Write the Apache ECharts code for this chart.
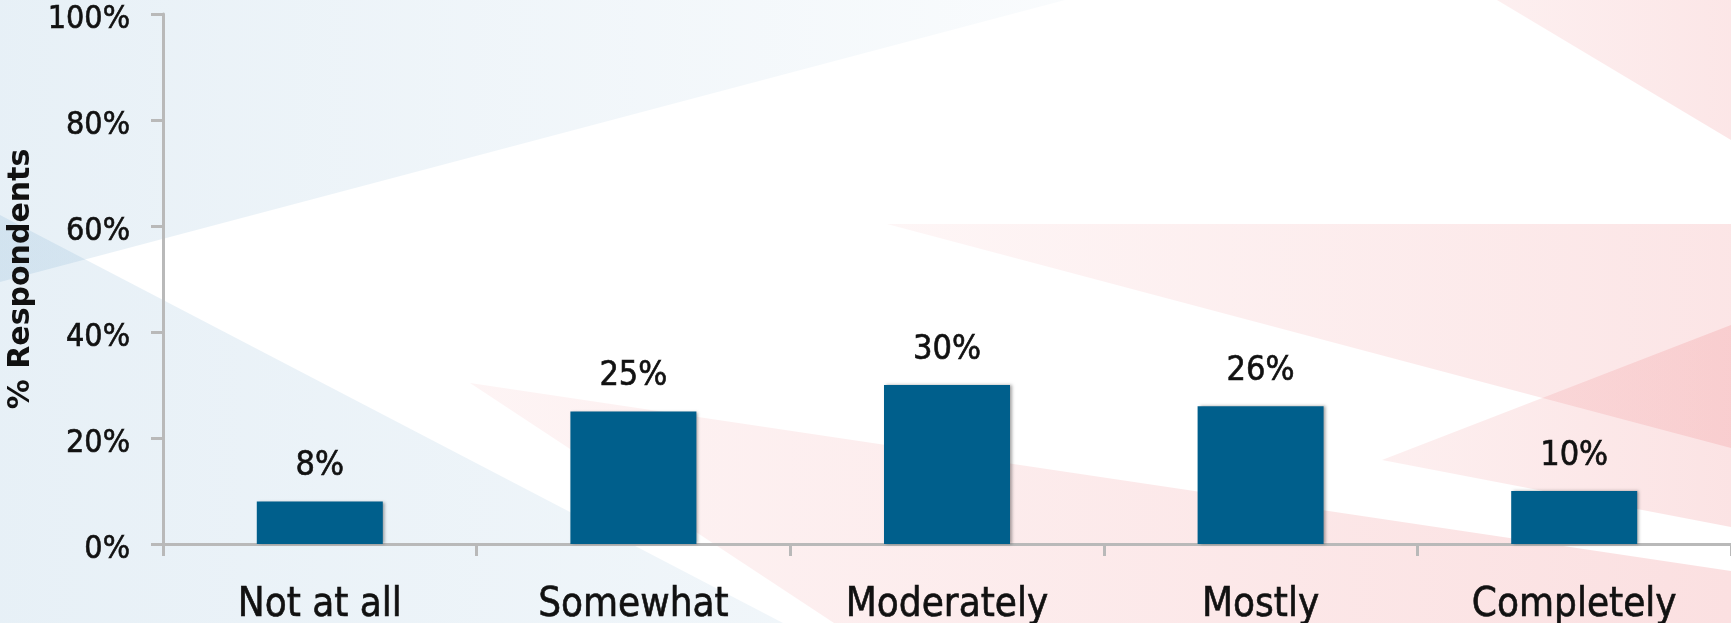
<!DOCTYPE html>
<html>
<head>
<meta charset="utf-8">
<title>% Respondents</title>
<script src="https://cdn.jsdelivr.net/npm/echarts@6/dist/echarts.min.js"></script>
<style>
  html, body { margin: 0; padding: 0; background: #ffffff; }
  #chart { width: 1731px; height: 623px; }
</style>
</head>
<body>
<div id="chart"></div>
<script>
// Survey answers and share of respondents (%)
const categories = ['Not at all', 'Somewhat', 'Moderately', 'Mostly', 'Completely'];
const respondentShare = [8, 25, 30, 26, 10];
const yTicks = [0, 20, 40, 60, 80, 100];

// Decorative slide backdrop: soft blue and pink wedges
function grad(c0, c1, x2, y2) {
  return { type: 'linear', x: 0, y: 0, x2: x2, y2: y2, colorStops: [
    { offset: 0, color: c0 }, { offset: 1, color: c1 }
  ] };
}
const backdrop = [
  { points: [[0, 0], [1065, 0], [0, 282]], fill: grad('rgba(70,140,190,0.13)', 'rgba(70,140,190,0.03)', 1, 0) },
  { points: [[0, 215], [783, 623], [0, 623]], fill: grad('rgba(70,140,190,0.13)', 'rgba(70,140,190,0.08)', 1, 0) },
  { points: [[1497, 0], [1731, 0], [1731, 140]], fill: grad('rgba(235,100,105,0.10)', 'rgba(235,100,105,0.16)', 1, 0) },
  { points: [[887, 224], [1731, 224], [1731, 448]], fill: grad('rgba(235,100,105,0.06)', 'rgba(235,100,105,0.17)', 1, 0) },
  { points: [[1382, 460], [1731, 325], [1731, 527]], fill: grad('rgba(235,100,105,0.10)', 'rgba(235,100,105,0.18)', 1, 0) },
  { points: [[470, 383], [1731, 571], [1731, 623], [834, 623]], fill: grad('rgba(235,100,105,0.07)', 'rgba(235,100,105,0.20)', 1, 0) }
];

const chart = echarts.init(document.getElementById('chart'), null, { renderer: 'canvas' });

const textColor = '#111111';
const axisGrey = '#b9b9b9';
const font = '"DejaVu Sans Condensed", "DejaVu Sans", sans-serif';
const heavy = { textBorderColor: textColor, textBorderWidth: 0.6 };

chart.setOption({
  backgroundColor: '#ffffff',
  animation: false,
  graphic: backdrop.map(function (b) {
    return { type: 'polygon', silent: true, z: -100, shape: { points: b.points }, style: { fill: b.fill } };
  }),
  grid: { left: 163, right: 0, top: 14, bottom: 79, containLabel: false, outerBoundsMode: 'none' },
  xAxis: {
    type: 'category',
    data: categories,
    boundaryGap: true,
    axisLine: { lineStyle: { color: axisGrey, width: 3 } },
    axisTick: { show: true, length: 12, interval: 0, lineStyle: { color: axisGrey, width: 3 } },
    axisLabel: Object.assign({ interval: 0, margin: 42, color: textColor, fontFamily: font, fontSize: 40 }, heavy)
  },
  yAxis: {
    type: 'value',
    min: yTicks[0],
    max: yTicks[yTicks.length - 1],
    interval: yTicks[1] - yTicks[0],
    name: '% Respondents',
    nameLocation: 'middle',
    nameRotate: 90,
    nameGap: 116,
    nameTextStyle: { color: textColor, fontFamily: '"DejaVu Sans", sans-serif', fontWeight: 'bold', fontSize: 30 },
    axisLine: { show: true, lineStyle: { color: axisGrey, width: 3 } },
    axisTick: { show: true, length: 12, lineStyle: { color: axisGrey, width: 3 } },
    splitLine: { show: false },
    axisLabel: Object.assign({
      margin: 33, color: textColor, fontFamily: font, fontSize: 32,
      formatter: '{value}%', verticalAlign: 'top', lineHeight: 12
    }, heavy)
  },
  series: [{
    type: 'bar',
    data: respondentShare,
    barWidth: 126,
    itemStyle: {
      color: '#005f8c',
      shadowColor: 'rgba(0,0,0,0.35)',
      shadowBlur: 3,
      shadowOffsetX: 2,
      shadowOffsetY: 0
    },
    label: Object.assign({
      show: true,
      position: 'top',
      distance: 18,
      color: textColor,
      fontFamily: font,
      fontSize: 34,
      formatter: '{c}%'
    }, heavy)
  }]
});
</script>
</body>
</html>
